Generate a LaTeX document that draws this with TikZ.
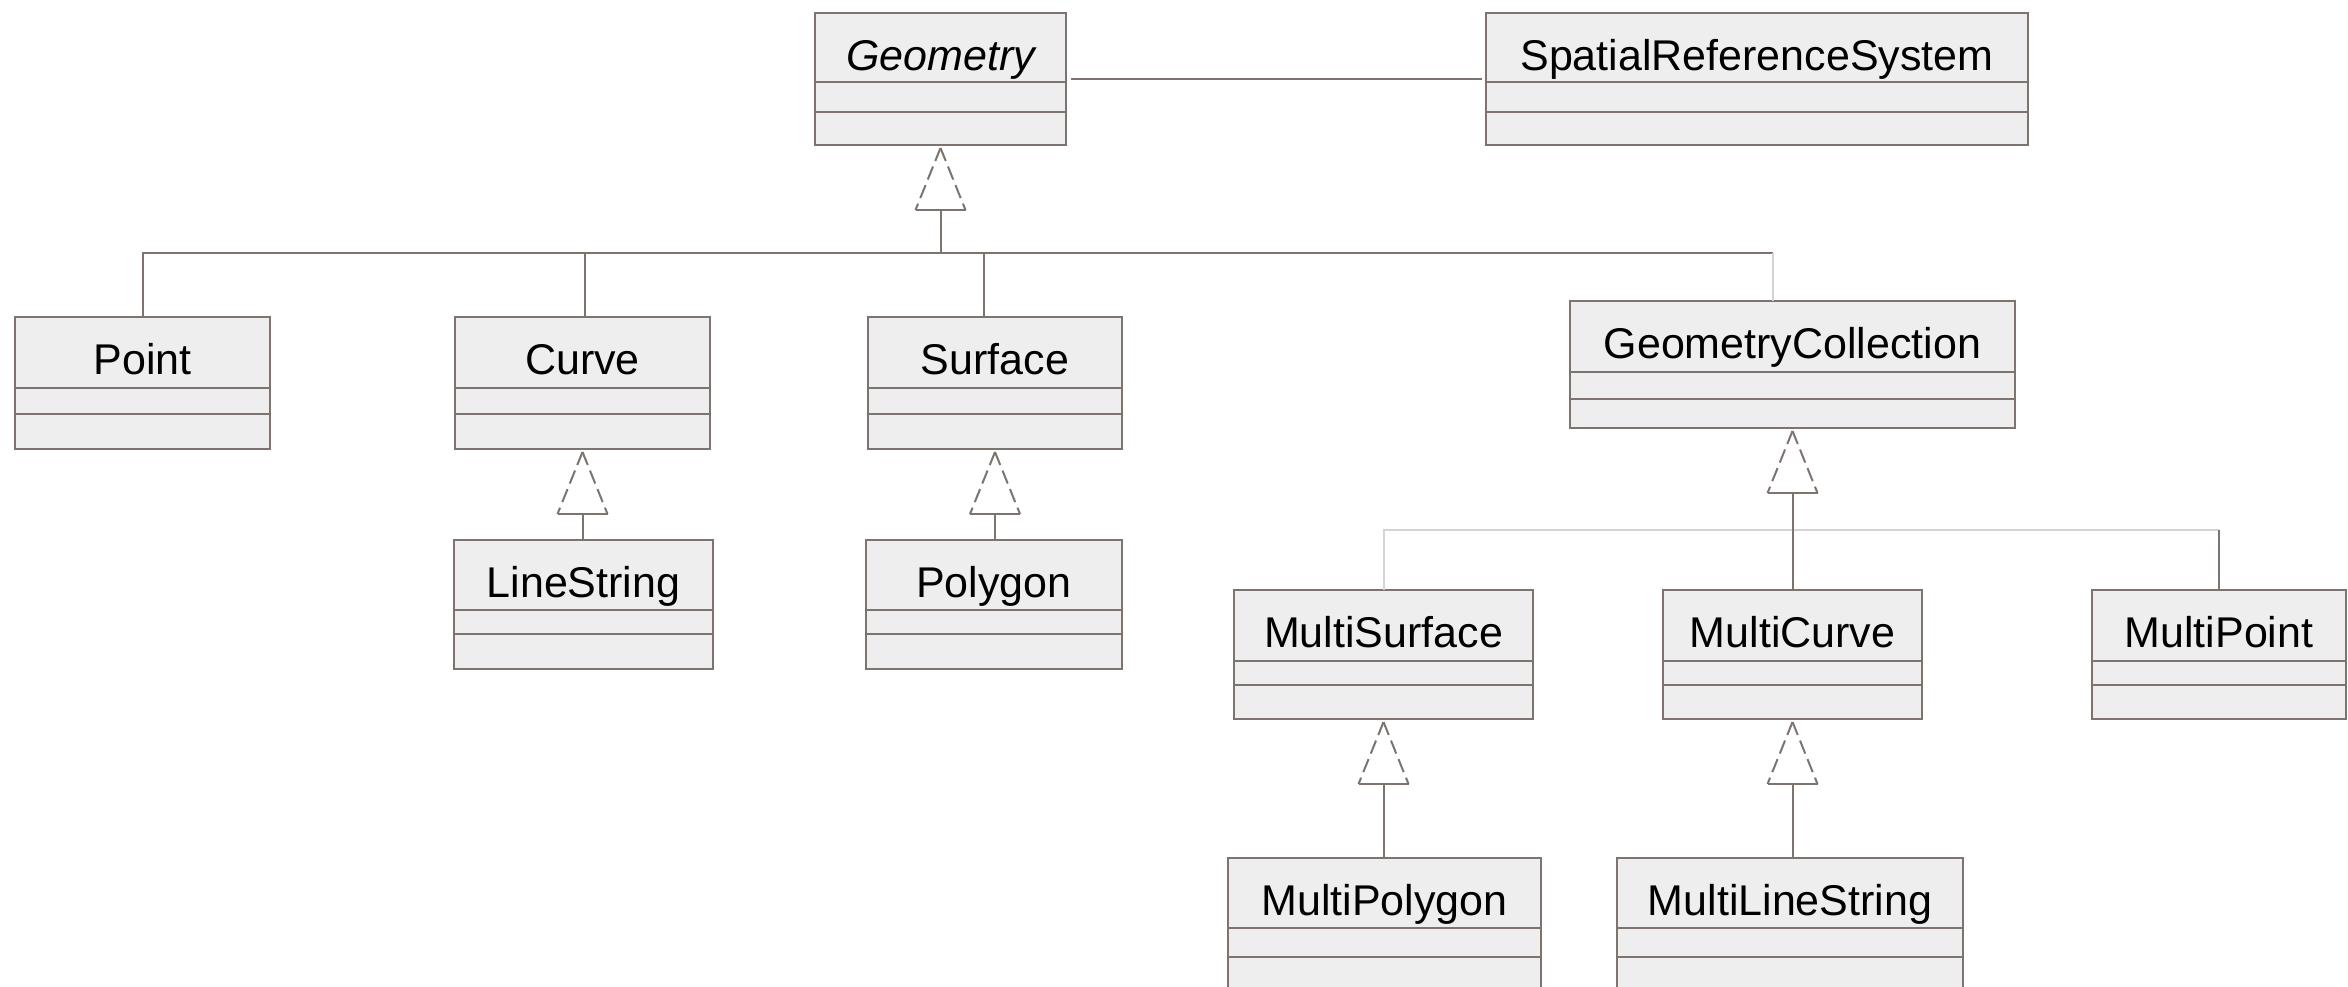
\documentclass[tikz,border=0pt]{standalone}
\usepackage{fontspec}
\setmainfont{Liberation Sans}
\definecolor{edge}{HTML}{7D7470}
\definecolor{boxfill}{HTML}{EEEEEE}
\definecolor{faint}{HTML}{D4D4D4}
\tikzset{
 classbox/.style={draw=edge, fill=boxfill, line width=2.5pt, inner sep=0pt, outer sep=0pt, rectangle},
 divider/.style={draw=edge, line width=2.2pt},
 classname/.style={font=\fontsize{43}{50}\selectfont, text=black, inner sep=0pt},
 conn/.style={draw=edge, line width=2pt},
 faintconn/.style={draw=faint, line width=2pt},
 triside/.style={draw=edge, line width=2pt, dash pattern=on 14pt off 6pt},
 tribase/.style={draw=edge, line width=2pt},
}
% #1 name, #2 x1, #3 y1, #4 x2, #5 y2, #6 d1, #7 d2, #8 label
\newcommand\umlclass[8]{%
 \pgfmathsetmacro\cbw{#4-#2}\pgfmathsetmacro\cbh{#5-#3}%
 \pgfmathsetmacro\cbx{(#2+#4)/2}\pgfmathsetmacro\cby{(#3+#5)/2}%
 \node[classbox, minimum width=\cbw pt, minimum height=\cbh pt] (#1) at (\cbx,\cby) {};
 \draw[divider] (#2,#6) -- (#4,#6) (#2,#7) -- (#4,#7);
 \node[classname, anchor=base] (#1-label) at (\cbx,#3+57) {#8};
}
\newcommand\gentri[1]{%
 \coordinate (#1-tip) at ([yshift=-3pt]#1.south);
 \fill[white] (#1-tip) -- ++(-25,62) -- ++(50,0) -- cycle;
 \draw[triside] (#1-tip) -- ++(-25,62);
 \draw[triside] (#1-tip) -- ++(25,62);
 \draw[tribase] ([shift={(-25,62)}]#1-tip) -- ([shift={(25,62)}]#1-tip);
 \coordinate (#1-tb) at ([shift={(0,62)}]#1-tip);
}
\begin{document}
\begin{tikzpicture}[x=1pt,y=-1pt]
\useasboundingbox (0,0) rectangle (2348,986);
\fill[white] (0,0) rectangle (2348,986);

\umlclass{Geometry}{815}{13}{1066}{145}{82}{112}{\itshape Geometry}
\umlclass{SRS}{1486}{13}{2028}{145}{82}{112}{SpatialReferenceSystem}
\umlclass{Point}{15}{317}{270}{449}{388}{414}{Point}
\umlclass{Curve}{455}{317}{710}{449}{388}{414}{Curve}
\umlclass{Surface}{868}{317}{1122}{449}{388}{414}{Surface}
\umlclass{GC}{1570}{301}{2015}{428}{372}{399}{GeometryCollection}
\umlclass{LineString}{454}{540}{713}{669}{610}{634}{LineString}
\umlclass{Polygon}{866}{540}{1122}{669}{610}{634}{Polygon}
\umlclass{MultiSurface}{1234}{590}{1533}{719}{661}{685}{MultiSurface}
\umlclass{MultiCurve}{1663}{590}{1922}{719}{661}{685}{MultiCurve}
\umlclass{MultiPoint}{2092}{590}{2346}{719}{661}{685}{MultiPoint}
\umlclass{MultiPolygon}{1228}{858}{1541}{1000}{928}{957}{MultiPolygon}
\umlclass{MultiLineString}{1617}{858}{1963}{1000}{928}{957}{MultiLineString}

% association
\draw[conn] ([xshift=5pt]Geometry.east) -- ([xshift=-4pt]SRS.west);

% generalization triangles
\gentri{Geometry}
\gentri{Curve}
\gentri{Surface}
\gentri{GC}
\gentri{MultiSurface}
\gentri{MultiCurve}

% Geometry hierarchy
\coordinate (gbus) at (Geometry-tb |- 0,253);
\coordinate (gcdrop) at ([xshift=-19.5pt]GC.north);
\draw[conn] (gbus) -- (Geometry-tb);
\draw[conn] (Point.north) |- (gbus);
\draw[conn] ([xshift=2.5pt]Curve.north) -- ([xshift=2.5pt]Curve.north |- gbus);
\draw[conn] ([xshift=-11pt]Surface.north) -- ([xshift=-11pt]Surface.north |- gbus);
\draw[conn] (gbus) -- (gbus -| gcdrop);
\draw[faintconn] (gbus -| gcdrop) -- (gcdrop);

% Curve / Surface subclasses
\draw[conn] (LineString.north -| Curve-tb) -- (Curve-tb);
\draw[conn] (Polygon.north -| Surface-tb) -- (Surface-tb);

% GeometryCollection subclasses
\coordinate (cbus) at (GC-tb |- 0,530);
\draw[faintconn] (MultiSurface.north) |- (cbus -| MultiPoint.north);
\draw[conn] (MultiCurve.north -| GC-tb) -- (GC-tb);
\draw[conn] (MultiPoint.north) -- (cbus -| MultiPoint.north);

% Multi* subclasses
\draw[conn] (MultiPolygon.north -| MultiSurface-tb) -- (MultiSurface-tb);
\draw[conn] (MultiLineString.north -| MultiCurve-tb) -- (MultiCurve-tb);
\end{tikzpicture}
\end{document}
